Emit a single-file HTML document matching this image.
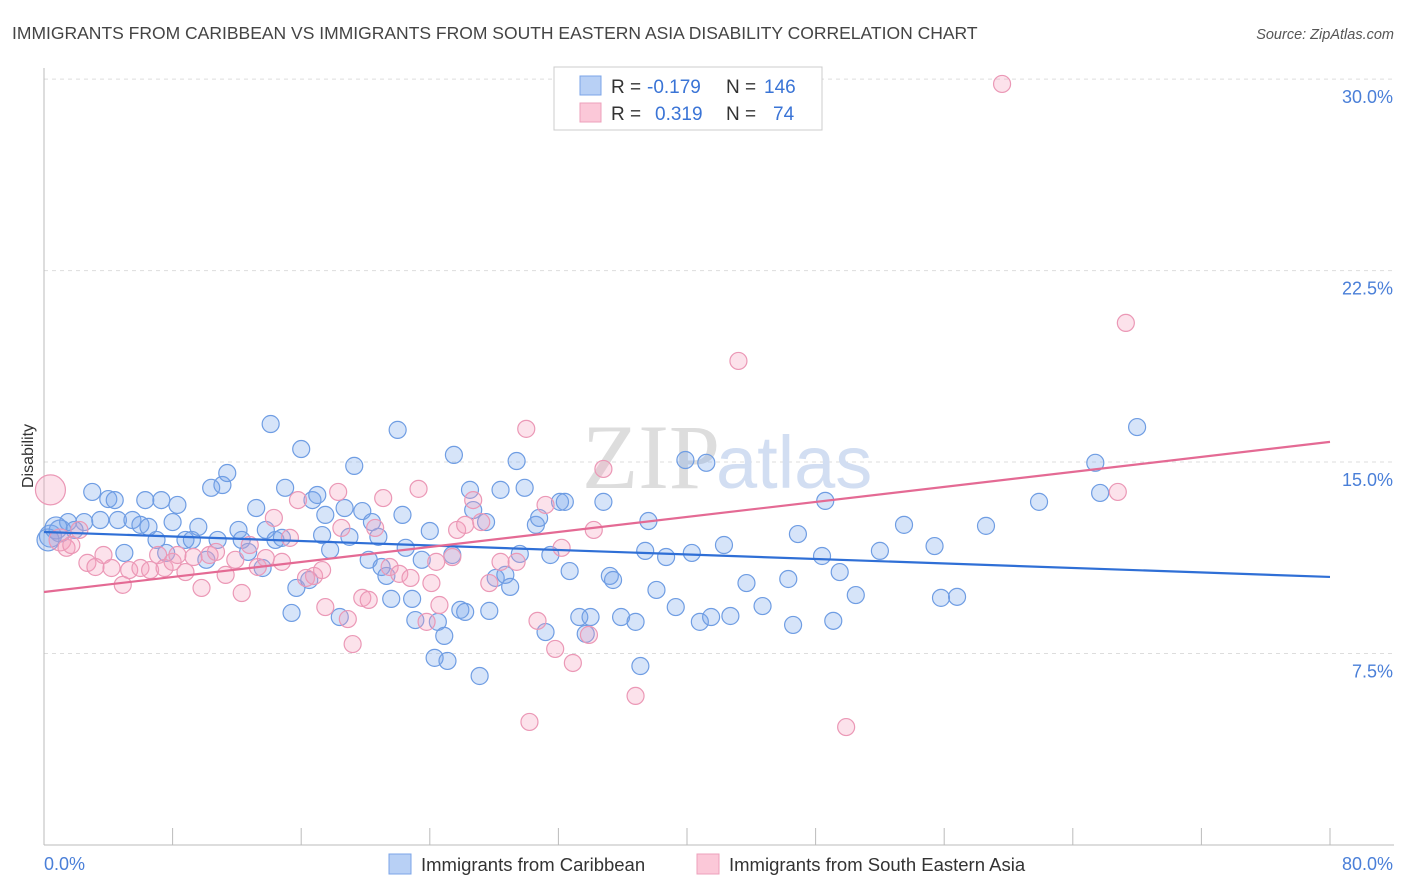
<!DOCTYPE html>
<html><head><meta charset="utf-8"><style>
body{margin:0;background:#fff;font-family:"Liberation Sans",sans-serif;}
svg{display:block}
</style></head><body>
<svg width="1406" height="892" viewBox="0 0 1406 892" xmlns="http://www.w3.org/2000/svg">
<text x="12" y="39" font-size="17.5" fill="#444">IMMIGRANTS FROM CARIBBEAN VS IMMIGRANTS FROM SOUTH EASTERN ASIA DISABILITY CORRELATION CHART</text>
<text x="1394" y="39" font-size="14.5" fill="#555" font-style="italic" text-anchor="end">Source: ZipAtlas.com</text>
<g id="grid"></g>
<g id="yticks"></g>
<g id="xticks"></g>
<text x="720" y="488" font-size="92" font-family="Liberation Serif,serif" fill="#ddd" text-anchor="end">ZIP</text>
<text x="716" y="488" font-size="74" fill="#d2def2">atlas</text>
<line x1="44" y1="68" x2="44" y2="845" stroke="#bbb"/>
<line x1="44" y1="845" x2="1394" y2="845" stroke="#bbb"/>
<text transform="translate(33,456) rotate(-90)" font-size="16" fill="#333" text-anchor="middle">Disability</text>
<g id="pts-blue"></g>
<g id="pts-pink"></g>
<g id="trends"></g>
<text x="44" y="870" font-size="18" fill="#4a7fd8">0.0%</text>
<text x="1393" y="870" font-size="18" fill="#4a7fd8" text-anchor="end">80.0%</text>
<g>
<rect x="554" y="67" width="268" height="63" fill="#fff" stroke="#ccc"/>
<rect x="580" y="76" width="21" height="19" fill="#b8d0f5" stroke="#7ba4e8"/>
<rect x="580" y="103" width="21" height="19" fill="#fbc8d8" stroke="#eea0bb"/>
<g font-size="19" fill="#333">
<text x="611" y="93">R =</text><text x="647" y="93" fill="#3a74d6">-0.179</text><text x="726" y="93">N =</text><text x="764" y="93" fill="#3a74d6">146</text>
<text x="611" y="120">R =</text><text x="655" y="120" fill="#3a74d6">0.319</text><text x="726" y="120">N =</text><text x="773" y="120" fill="#3a74d6">74</text>
</g></g>
<g>
<rect x="389" y="854" width="22" height="20" fill="#b8d0f5" stroke="#7ba4e8"/>
<text x="421" y="871" font-size="18.5" fill="#333">Immigrants from Caribbean</text>
<rect x="697" y="854" width="22" height="20" fill="#fbc8d8" stroke="#eea0bb"/>
<text x="729" y="871" font-size="18.5" fill="#333">Immigrants from South Eastern Asia</text>
</g>
</svg>
<script>
const yTicks=[7.5,15,22.5,30];
const yTickLabels=["7.5%","15.0%","22.5%","30.0%"];
const xTicks=[0,10,20,30,40,50,60,70,80];
const blueX=[0.4,1.0,1.5,2.5,3.0,3.5,4.0,4.6,5.0,5.5,6.0,6.5,7.0,7.3,7.6,8.0,8.3,8.8,9.2,9.6,10.1,10.4,10.8,11.1,11.4,12.1,12.3,12.7,13.2,13.6,13.8,14.1,14.4,14.8,15.0,15.4,15.7,16.0,16.5,16.7,17.0,17.3,17.5,17.8,18.4,18.7,19.0,19.3,19.8,20.2,20.4,20.8,21.0,21.3,21.6,22.0,22.3,22.5,22.9,23.1,23.5,24.0,24.3,24.5,24.9,25.1,25.4,25.5,25.9,26.2,26.5,26.7,27.1,27.5,27.7,28.1,28.4,28.7,29.0,29.4,29.6,29.9,30.6,30.8,31.2,31.5,32.1,32.4,32.7,33.3,33.7,34.0,34.8,35.2,35.4,35.9,36.8,37.1,37.4,37.6,38.1,38.7,39.3,39.9,40.3,40.8,41.2,41.5,42.3,42.7,43.7,44.7,46.3,46.6,46.9,48.4,48.6,49.1,49.5,50.5,52.0,53.5,55.4,55.8,56.8,58.6,61.9,65.4,65.7,68.0,0.25,0.75,1.9,4.4,6.3];
const blueY=[12.1,12.3,12.65,12.65,13.83,12.73,13.55,12.73,11.44,12.73,12.54,12.46,11.95,13.51,11.44,12.65,13.32,11.95,11.95,12.46,11.17,13.99,11.95,14.1,14.57,12.34,11.95,11.48,13.2,10.85,12.34,16.49,11.95,12.03,13.99,9.09,10.07,15.51,10.38,13.51,13.71,12.14,12.93,11.56,8.93,13.2,12.07,14.85,13.08,11.17,12.65,12.07,10.89,10.54,9.64,16.26,12.93,11.64,9.64,8.81,11.17,12.3,7.33,8.74,8.19,7.21,11.36,15.28,9.21,9.13,13.91,13.12,6.62,12.65,9.17,10.46,13.91,10.58,10.11,15.04,11.4,13.99,12.54,12.81,8.34,11.36,13.44,13.44,10.73,8.93,8.27,8.93,13.44,10.54,10.38,8.93,8.74,7.01,11.52,12.69,9.99,11.28,9.32,15.08,11.44,8.74,14.97,8.93,11.75,8.97,10.26,9.36,10.42,8.62,12.18,11.32,13.48,8.78,10.69,9.79,11.52,12.54,11.71,9.68,9.72,12.5,13.44,14.97,13.79,16.37,11.95,12.42,12.34,13.51,13.51];
const pinkX=[0.4,1.0,1.4,1.7,2.2,2.7,3.2,3.7,4.2,4.9,5.3,6.0,6.6,7.1,7.5,8.0,8.3,8.8,9.3,9.8,10.3,10.7,11.3,11.9,12.3,12.8,13.3,13.8,14.3,14.8,15.3,15.8,16.3,16.8,17.3,17.5,18.3,18.5,18.9,19.2,19.8,20.2,20.6,21.1,21.5,22.1,22.8,23.3,23.8,24.1,24.4,24.6,25.4,25.7,26.2,26.7,27.2,27.7,28.4,29.4,30.0,30.2,30.7,31.2,31.8,32.2,32.9,33.9,34.2,34.8,36.8,43.2,49.9,59.6,66.8,67.3];
const pinkY=[13.91,11.95,11.64,11.75,12.34,11.05,10.89,11.36,10.85,10.19,10.77,10.85,10.77,11.36,10.85,11.09,11.36,10.69,11.28,10.07,11.36,11.48,10.58,11.17,9.87,11.75,10.89,11.24,12.81,11.09,12.03,13.51,10.46,10.54,10.77,9.32,13.83,12.42,8.85,7.87,9.68,9.6,12.42,13.59,10.89,10.62,10.46,13.95,8.74,10.26,11.09,9.4,11.28,12.34,12.54,13.51,12.65,10.26,11.09,11.09,16.3,4.82,8.78,13.32,7.68,11.64,7.13,8.23,12.34,14.73,5.84,18.96,4.62,29.81,13.83,20.45];
const blueTrend=[12.26,10.5];
const pinkTrend=[9.91,15.79];
const trendX=[0,80];
const NS="http://www.w3.org/2000/svg";
const sx=v=>44+v*16.075, sy=v=>845-v*25.53;
function mk(tag,attrs,parent){const e=document.createElementNS(NS,tag);for(const k in attrs)e.setAttribute(k,attrs[k]);parent.appendChild(e);return e;}
const grid=document.getElementById('grid'),yt=document.getElementById('yticks'),xt=document.getElementById('xticks');
yTicks.forEach((t,i)=>{
 const l=mk('line',{x1:44,x2:1394,y1:sy(t),y2:sy(t),stroke:'#ddd','stroke-dasharray':'4,4'},grid);
 
 
 const tx=mk('text',{x:1393,y:sy(t)+24,'font-size':18,fill:'#4a7fd8','text-anchor':'end'},yt);
 tx.textContent=yTickLabels[i];
 
 
});
for(let i=0;i<=10;i++){
 const l=mk('line',{x1:sx(i*8),x2:sx(i*8),y1:828,y2:845,stroke:'#bbb'},xt);
 
 
}
const gb=document.getElementById('pts-blue'),gp=document.getElementById('pts-pink');
blueX.forEach((x,i)=>{
 const r=x<1.2?11:8.5;
 const c=mk('circle',{cx:sx(x),cy:sy(blueY[i]),r:r,fill:'rgba(120,165,235,0.3)',stroke:'#6f9de3','stroke-width':1.2},gb);
 
 
});
pinkX.forEach((x,i)=>{
 const r=i===0?15:(x<1.2?11:8.5);
 const c=mk('circle',{cx:sx(x),cy:sy(pinkY[i]),r:r,fill:'rgba(245,160,190,0.3)',stroke:'#eb98b6','stroke-width':1.2},gp);
 
 
});
const tr=document.getElementById('trends');
const lb=mk('line',{x1:sx(trendX[0]),y1:sy(blueTrend[0]),x2:sx(trendX[1]),y2:sy(blueTrend[1]),stroke:'#2f6fd6','stroke-width':2.2},tr);


const lp=mk('line',{x1:sx(trendX[0]),y1:sy(pinkTrend[0]),x2:sx(trendX[1]),y2:sy(pinkTrend[1]),stroke:'#e46a94','stroke-width':2.2},tr);


</script>
</body></html>
